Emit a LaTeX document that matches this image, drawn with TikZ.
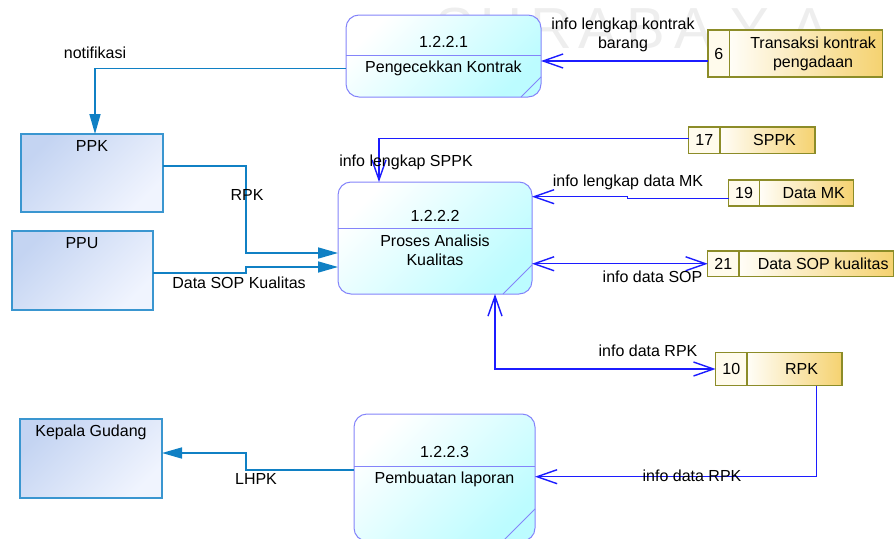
\documentclass[tikz,border=0pt]{standalone}
\usepackage{fontspec}
\setmainfont{Liberation Sans}
\usepackage{tikz}
\usetikzlibrary{arrows.meta,positioning}

\definecolor{procline}{RGB}{132,132,250}
\definecolor{proccyan}{RGB}{188,252,255}
\definecolor{entline}{RGB}{58,150,208}
\definecolor{enttop}{RGB}{196,212,242}
\definecolor{entbot}{RGB}{240,244,254}
\definecolor{storeline}{RGB}{140,140,40}
\definecolor{storegold}{RGB}{245,210,112}
\definecolor{storecream}{RGB}{255,251,236}
\definecolor{flowteal}{RGB}{16,128,196}
\definecolor{flowblue}{RGB}{28,28,255}

\tikzset{
  proc/.style={draw=procline, line width=1pt, rounded corners=13pt, top color=white, bottom color=proccyan, shading angle=45, anchor=north west, inner sep=0pt, outer sep=0pt},
  procsep/.style={draw=procline, line width=1pt},
  entity/.style={draw=entline, line width=1.2pt, top color=enttop, bottom color=entbot, shading angle=45, anchor=north west, inner sep=0pt, outer sep=0pt},
  storeno/.style={draw=storeline, line width=1.2pt, fill=storecream, anchor=north west, inner sep=0pt, outer sep=0pt, font=\fontsize{16}{19}\selectfont},
  storename/.style={draw=storeline, line width=1.2pt, left color=storecream!40!white, right color=storegold, inner sep=0pt, outer sep=0pt},
  lbl/.style={font=\fontsize{16}{19}\selectfont, inner sep=0pt, align=center},
  wmark/.style={font=\fontsize{58}{60}\selectfont, text=gray!13, inner sep=0pt},
  flowA/.style={draw=flowteal, line width=1.6pt, -{Triangle[length=20pt,width=11pt]}},
  flowB/.style={draw=flowblue, line width=1.4pt, -{Straight Barb[length=20pt,width=14pt]}},
  flowBB/.style={flowB, {Straight Barb[length=20pt,width=14pt]}-{Straight Barb[length=20pt,width=14pt]}},
}

\begin{document}
\begin{tikzpicture}[x=1pt, y=-1pt]
  \clip (0,0) rectangle (896,538);

  % watermark
  \foreach \ch/\xx in {S/455,U/501,R/551,A/598,B/646,A/694,Y/750,A/810}
    \node[wmark] (wm\xx) at (\xx,29) {\ch};

  % external entities
  \node[entity, minimum width=142pt, minimum height=78pt] (ppk) at (21,134) {};
  \node[lbl] (ppkt) at (92,146) {PPK};
  \node[entity, minimum width=141pt, minimum height=79pt] (ppu) at (12,231) {};
  \node[lbl] (pput) at (82,243) {PPU};
  \node[entity, minimum width=142pt, minimum height=79pt] (kg) at (20,419) {};
  \node[lbl] (kgt) at (91,432) {Kepala Gudang};

  % process 1.2.2.1
  \node[proc, minimum width=195pt, minimum height=82pt] (p1) at (346,15) {};
  \draw[procsep] (p1.west |- 0,55) -- (p1.east |- 0,55); % divider
  \draw[procsep] ([yshift=20pt]p1.south east) -- ([xshift=-20pt]p1.south east);
  \node[lbl] (p1n) at (443.5,41.7) {1.2.2.1};
  \node[lbl] (p1t) at (443.5,68.3) {Pengecekkan Kontrak};

  % process 1.2.2.2
  \node[proc, minimum width=194pt, minimum height=112pt] (p2) at (338,182) {};
  \draw[procsep] (p2.west |- 0,228) -- (p2.east |- 0,228); % divider
  \draw[procsep] ([yshift=29pt]p2.south east) -- ([xshift=-29pt]p2.south east);
  \node[lbl] (p2n) at (435,216) {1.2.2.2};
  \node[lbl] (p2t) at (435,250.5) {Proses Analisis\\Kualitas};

  % process 1.2.2.3
  \node[proc, minimum width=181pt, minimum height=127pt] (p3) at (354,414) {};
  \draw[procsep] (p3.west |- 0,466) -- (p3.east |- 0,466); % divider
  \draw[procsep] ([yshift=32pt]p3.south east) -- ([xshift=-32pt]p3.south east);
  \node[lbl] (p3n) at (444.5,451.7) {1.2.2.3};
  \node[lbl] (p3t) at (444.5,479) {Pembuatan laporan};

  % data stores
  \node[storeno, minimum width=21.6pt, minimum height=47pt] (s6n) at (708,30) {6};
  \node[storename, minimum width=153pt, minimum height=47pt, right=0pt of s6n] (s6) {};
  \node[lbl] (s6t) at ([xshift=7pt]s6.center) {Transaksi kontrak\\pengadaan};

  \node[storeno, minimum width=31.5pt, minimum height=26.5pt] (s17n) at (688.5,127) {17};
  \node[storename, minimum width=95pt, minimum height=26.5pt, right=0pt of s17n] (s17) {};
  \node[lbl] (s17t) at ([xshift=7pt]s17.center) {SPPK};

  \node[storeno, minimum width=31.2pt, minimum height=26pt] (s19n) at (728.5,180) {19};
  \node[storename, minimum width=94pt, minimum height=26pt, right=0pt of s19n] (s19) {};
  \node[lbl] (s19t) at ([xshift=7pt]s19.center) {Data MK};

  \node[storeno, minimum width=31.3pt, minimum height=25.5pt] (s21n) at (707.7,251) {21};
  \node[storename, minimum width=154.3pt, minimum height=25.5pt, right=0pt of s21n] (s21) {};
  \node[lbl] (s21t) at ([xshift=7pt]s21.center) {Data SOP kualitas};

  \node[storeno, minimum width=31.4pt, minimum height=33.4pt] (s10n) at (715.6,352.3) {10};
  \node[storename, minimum width=95pt, minimum height=33.4pt, right=0pt of s10n] (s10) {};
  \node[lbl] (s10t) at ([xshift=7pt]s10.center) {RPK};

  % flows to and from entities
  \draw[flowA] (p1.west |- p1t) -| ([xshift=3pt]ppk.north);
  \draw[flowA] ([yshift=7pt]ppk.east) -| (246,253) -- (p2.west |- 0,253);
  \draw[flowA] ([yshift=-2.5pt]ppu.east) -- (246,273) -- (246,267) -- (p2.west |- 0,267);
  \draw[flowA] (p3.west |- 0,470) -- (246,470) -- (246,453) -- (kg.east |- 0,453);

  % flows to and from stores
  \draw[flowB] (s6n.west |- 0,61) -- (p1.east |- 0,61);
  \draw[flowB] ([yshift=2pt]s17n.west) -| ([xshift=-56pt]p2.north);
  \draw[flowB] ([yshift=-5.7pt]s19n.west) -- (627.5,198.7) -- (627.5,196.7) -- (p2.east |- 0,196.7);
  \draw[flowBB] (p2.east |- s21n.west) -- (s21n.west);
  \draw[flowBB] ([xshift=60pt]p2.south) |- (s10n.west);
  \draw[flowB] ([xshift=22pt]s10.south) |- (p3.east |- 0,476.7);

  % flow labels
  \node[lbl] (lnot) at (95,53) {notifikasi};
  \node[lbl] (lrpk) at (247,195) {RPK};
  \node[lbl] (lsop) at (239,283) {Data SOP Kualitas};
  \node[lbl] (llhpk) at (256,479) {LHPK};
  \node[lbl] (lkontrak) at (623,34.5) {info lengkap kontrak\\barang};
  \node[lbl] (lsppk) at (406,162.3) {info lengkap SPPK};
  \node[lbl] (lmk) at (628,182) {info lengkap data MK};
  \node[lbl] (lsopinfo) at (652.5,276.7) {info data SOP};
  \node[lbl] (lrpkup) at (648,351) {info data RPK};
  \node[lbl] (lrpkdown) at (692,476) {info data RPK};
\end{tikzpicture}
\end{document}
